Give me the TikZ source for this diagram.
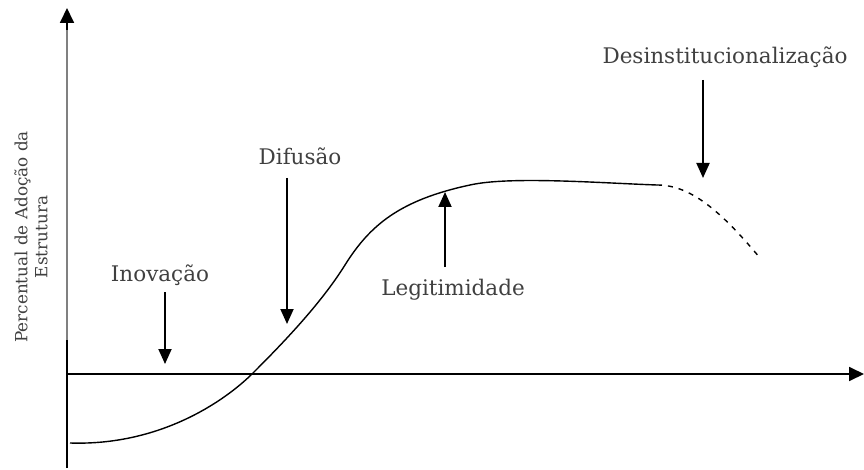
\documentclass[tikz,border=0pt]{standalone}
\usepackage{fontspec}
\setmainfont{DejaVu Serif}
\usetikzlibrary{arrows.meta}
\begin{document}
\begin{tikzpicture}[x=1pt,y=-1pt,
  lbl/.style={font=\fontsize{21.5}{24}\selectfont, text=black!75, inner sep=0pt},
  pointer/.style={line width=1.9pt, -{Triangle[width=13pt,length=15pt]}},
  axis/.style={line width=1.8pt, -{Triangle[width=14pt,length=15pt]}}]
\useasboundingbox (0,0) rectangle (864,470);
% axes
\coordinate (ybot) at (67,468);
\coordinate (ytop) at (67,8);
\coordinate (ymid) at (67,340);
\coordinate (xend) at (864,374);
\coordinate (xstart) at (67,374);
\draw[line width=1.8pt, black!50] (ymid) -- (67,30);
\draw[line width=1.8pt] (ybot) -- (ymid);
\draw[axis] (67,30) -- (ytop);
\draw[axis] (xstart) -- (xend);
% curve
\coordinate (c0) at (70,443);
\coordinate (c1) at (253,373);
\coordinate (c2) at (345,265);
\coordinate (c3) at (470,185);
\coordinate (c4) at (657,185);
\coordinate (c5) at (760,258);
\draw[line width=1.4pt] (c0) .. controls (160,446) and (225,401) .. (c1)
  .. controls (281,345) and (320,305) .. (c2)
  .. controls (370,225) and (400,200) .. (c3)
  .. controls (510,176) and (600,183) .. (c4);
\draw[line width=1.4pt, dash pattern=on 5pt off 6pt] (c4) .. controls (690,185) and (720,210) .. (c5);
% labels
\node[lbl] (inov) at (160,275) {Inovação};
\node[lbl] (dif) at (300,156) {Difusão};
\node[lbl] (leg) at (453,290) {Legitimidade};
\node[lbl] (des) at (725,57) {Desinstitucionalização};
\node[lbl, rotate=90, align=center, font=\fontsize{16.8}{20}\selectfont] (ylab) at (31,237) {Percentual de Adoção da\\Estrutura};
% pointer ends
\coordinate (inovS) at (165,292);
\coordinate (inovT) at (165,364);
\coordinate (difS) at (287,178);
\coordinate (difT) at (287,324);
\coordinate (legS) at (445,267);
\coordinate (legT) at (445,192);
\coordinate (desS) at (703,80);
\coordinate (desT) at (703,178);
\draw[pointer] (inovS) -- (inovT);
\draw[pointer] (difS) -- (difT);
\draw[pointer] (legS) -- (legT);
\draw[pointer] (desS) -- (desT);
\end{tikzpicture}
\end{document}
